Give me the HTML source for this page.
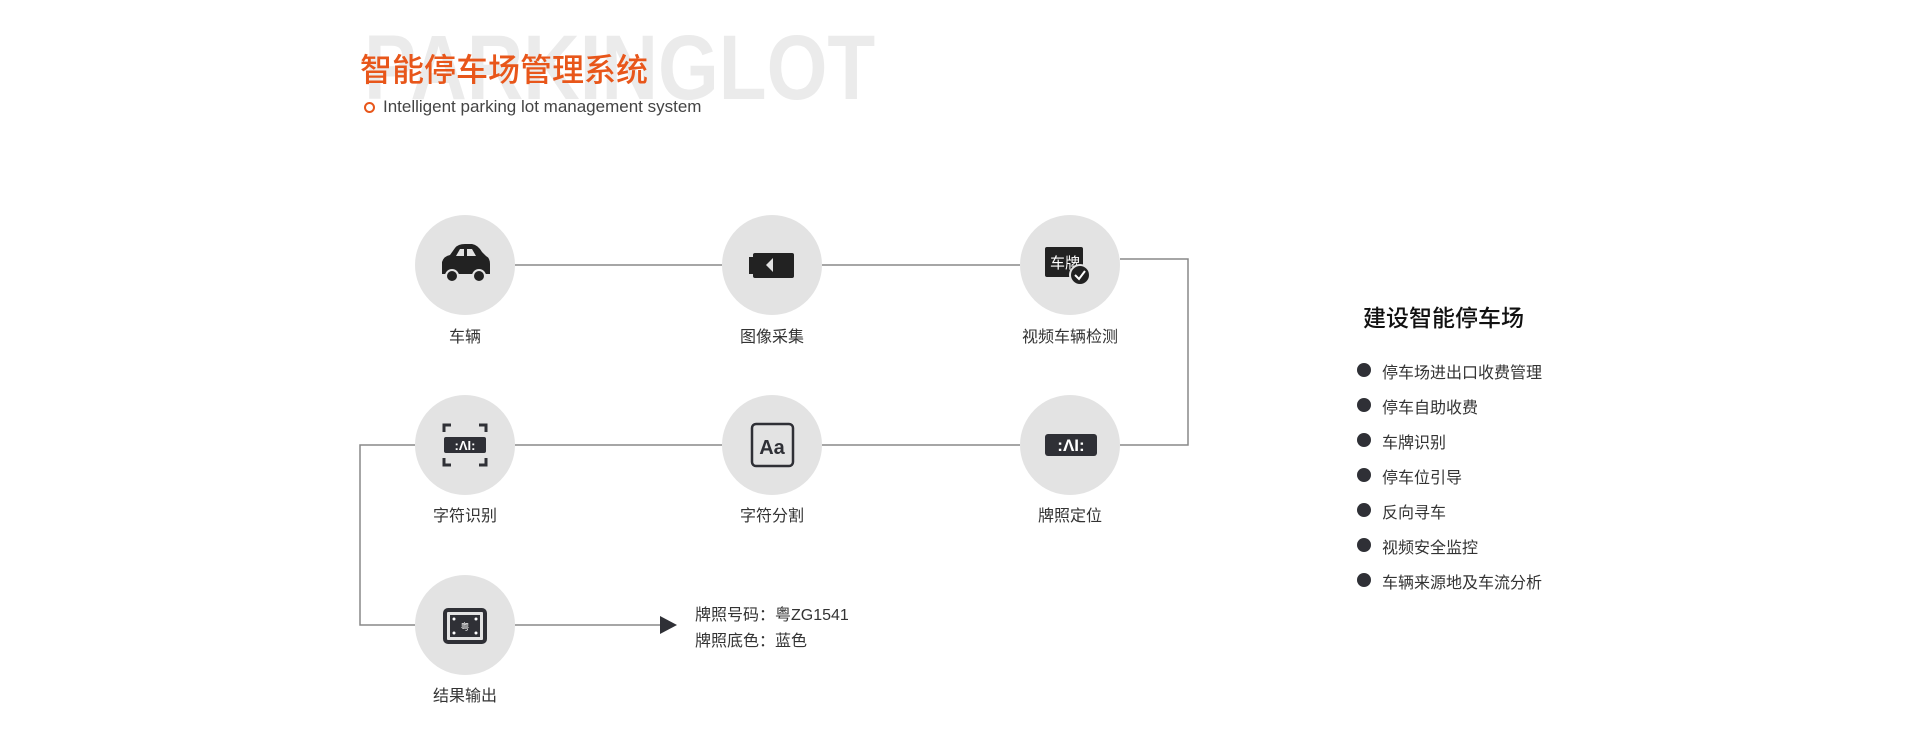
<!DOCTYPE html>
<html><head><meta charset="utf-8"><style>
body{margin:0;width:1920px;height:747px;background:#fff;position:relative;overflow:hidden;font-family:"Liberation Sans","Noto Sans CJK SC",sans-serif;}
.a{position:absolute;white-space:nowrap}
.c{position:absolute;width:100px;height:100px;border-radius:50%;background:#e3e3e3;}
.lb{position:absolute;width:200px;text-align:center;font-size:16px;color:#333}
.bl{position:absolute;left:1357px;width:14px;height:14px;border-radius:50%;background:#2f3036}
.bt{position:absolute;left:1382px;font-size:16px;color:#333}
</style></head><body>
<div class="a" style="left:364px;top:16px;font-size:92px;font-weight:bold;color:#ebebeb;letter-spacing:0px;font-family:'Liberation Sans',sans-serif;transform:scaleX(0.85);transform-origin:0 0">PARKINGLOT</div>
<div class="a" style="left:360px;top:45px;font-size:32px;color:#e8561a;font-weight:500">智能停车场管理系统</div>
<div class="a" style="left:364px;top:102px;width:7px;height:7px;border:2px solid #e8561a;border-radius:50%"></div>
<div class="a" style="left:383px;top:97px;font-size:17px;color:#444">Intelligent parking lot management system</div>

<svg class="a" style="left:0;top:0" width="1920" height="747">
<g stroke="#888" stroke-width="1.5" fill="none">
<line x1="515" y1="265" x2="722" y2="265"/>
<line x1="822" y1="265" x2="1020" y2="265"/>
<polyline points="1120,259 1188,259 1188,445 1120,445"/>
<line x1="515" y1="445" x2="722" y2="445"/>
<line x1="822" y1="445" x2="1020" y2="445"/>
<polyline points="415,445 360,445 360,625 415,625"/>
<line x1="515" y1="625" x2="662" y2="625"/>
</g>
<polygon points="660,616 677,625 660,634" fill="#2f3036"/>
</svg>

<div class="c" style="left:415px;top:215px"></div>
<div class="c" style="left:722px;top:215px"></div>
<div class="c" style="left:1020px;top:215px"></div>
<div class="c" style="left:415px;top:395px"></div>
<div class="c" style="left:722px;top:395px"></div>
<div class="c" style="left:1020px;top:395px"></div>
<div class="c" style="left:415px;top:575px"></div>

<svg class="a" style="left:0;top:0" width="1920" height="747">
<path d="M442,274 L442,262 Q444,256 450,255 L455,248 Q458,244 465,244 L472,244 Q478,245 482,252 L486,256 Q490,258 490,264 L490,274 Z" fill="#222"/>
<path d="M456,256 L460,249 L464,249 L464,256 Z M467,249 L472,249 L476,256 L467,256 Z" fill="#e3e3e3"/>
<circle cx="452" cy="276" r="6" fill="#222" stroke="#e3e3e3" stroke-width="2"/>
<circle cx="479" cy="276" r="6" fill="#222" stroke="#e3e3e3" stroke-width="2"/>
<rect x="753" y="253" width="41" height="25" rx="2" fill="#222"/>
<rect x="749" y="257" width="5" height="17" fill="#222"/>
<polygon points="773,258 766,265 773,272" fill="#e3e3e3"/>
<rect x="1045" y="247" width="38" height="30" rx="2" fill="#222"/>
<text x="1050" y="268" font-size="15" fill="#fff" font-family="Noto Sans CJK SC,sans-serif">车牌</text>
<circle cx="1080" cy="275" r="10" fill="#222" stroke="#e3e3e3" stroke-width="2"/>
<polyline points="1075,275 1079,279 1085,271" stroke="#fff" stroke-width="2" fill="none"/>
<g stroke="#2f3036" stroke-width="3" fill="none">
<polyline points="444,432 444,425 451,425"/><polyline points="479,425 486,425 486,432"/>
<polyline points="444,458 444,465 451,465"/><polyline points="479,465 486,465 486,458"/>
</g>
<rect x="444" y="437" width="42" height="16" rx="2" fill="#2f3036"/>
<text x="465" y="450" font-size="13" font-weight="bold" fill="#fff" text-anchor="middle">:ΛI:</text>
<rect x="752" y="424" width="41" height="42" rx="4" fill="none" stroke="#2f3036" stroke-width="2.5"/>
<text x="772" y="454" font-size="20" font-weight="bold" fill="#2f3036" text-anchor="middle">Aa</text>
<rect x="1045" y="434" width="52" height="22" rx="3" fill="#2f3036"/>
<text x="1071" y="451" font-size="17" font-weight="bold" fill="#fff" text-anchor="middle">:ΛI:</text>
<rect x="445" y="610" width="40" height="32" rx="3" fill="#e3e3e3" stroke="#2f3036" stroke-width="4"/>
<rect x="450" y="615" width="30" height="22" fill="#2f3036"/>
<circle cx="454" cy="619" r="1.5" fill="#fff"/><circle cx="476" cy="619" r="1.5" fill="#fff"/>
<circle cx="454" cy="633" r="1.5" fill="#fff"/><circle cx="476" cy="633" r="1.5" fill="#fff"/>
<text x="465" y="630" font-size="9" fill="#fff" text-anchor="middle" font-family="Noto Sans CJK SC,sans-serif">粤</text>
</svg>

<div class="lb" style="left:365px;top:323px">车辆</div>
<div class="lb" style="left:672px;top:323px">图像采集</div>
<div class="lb" style="left:970px;top:323px">视频车辆检测</div>
<div class="lb" style="left:365px;top:502px">字符识别</div>
<div class="lb" style="left:672px;top:502px">字符分割</div>
<div class="lb" style="left:970px;top:502px">牌照定位</div>
<div class="lb" style="left:365px;top:682px">结果输出</div>

<div class="a" style="left:695px;top:601px;font-size:16px;color:#333">牌照号码：粤ZG1541</div>
<div class="a" style="left:695px;top:627px;font-size:16px;color:#333">牌照底色：蓝色</div>

<div class="a" style="left:1363px;top:299px;font-size:23px;color:#111;font-weight:500">建设智能停车场</div>
<div class="bl" style="top:363px"></div><div class="bt" style="top:359px">停车场进出口收费管理</div>
<div class="bl" style="top:398px"></div><div class="bt" style="top:394px">停车自助收费</div>
<div class="bl" style="top:433px"></div><div class="bt" style="top:429px">车牌识别</div>
<div class="bl" style="top:468px"></div><div class="bt" style="top:464px">停车位引导</div>
<div class="bl" style="top:503px"></div><div class="bt" style="top:499px">反向寻车</div>
<div class="bl" style="top:538px"></div><div class="bt" style="top:534px">视频安全监控</div>
<div class="bl" style="top:573px"></div><div class="bt" style="top:569px">车辆来源地及车流分析</div>
</body></html>
